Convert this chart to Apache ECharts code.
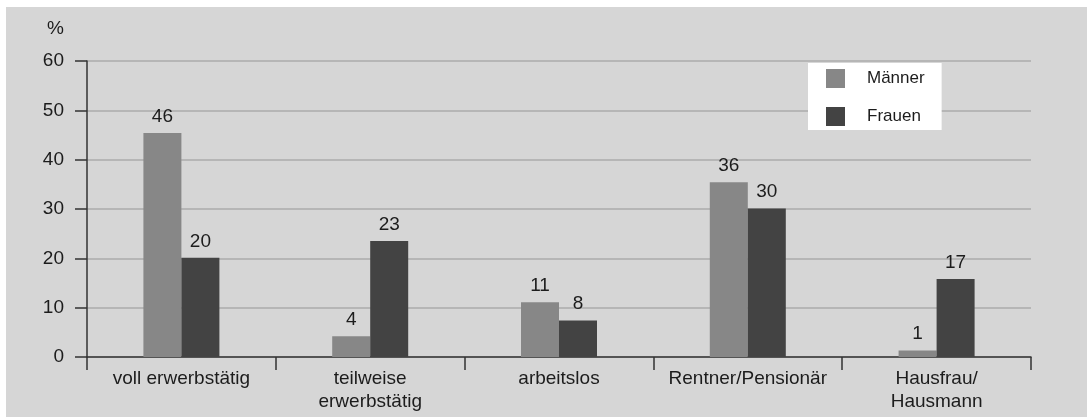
<!DOCTYPE html>
<html lang="de">
<head>
  <meta charset="UTF-8">
  <title>Erwerbsstatus</title>
  <script src="https://cdn.jsdelivr.net/npm/echarts@6/dist/echarts.min.js"></script>
  <style>
    body { margin: 0; background: #fff; }
    #chart {
      position: absolute;
      left: 6px;
      top: 7px;
      width: 1081px;
      height: 410px;
      background: #d6d6d6;
    }
  </style>
</head>
<body>
  <div id="chart"></div>
  <script>
    const categories = ['voll erwerbstätig', 'teilweise\nerwerbstätig', 'arbeitslos', 'Rentner/Pensionär', 'Hausfrau/\nHausmann'];
    // bar heights as drawn, and the numbers printed above them
    const maenner = [45.4, 4.2, 11.1, 35.4, 1.3];
    const frauen = [20.1, 23.5, 7.4, 30.1, 15.8];
    const maennerLabels = [46, 4, 11, 36, 1];
    const frauenLabels = [20, 23, 8, 30, 17];
    const yTicks = [0, 10, 20, 30, 40, 50, 60];

    const font = 'Liberation Sans, Arial, sans-serif';
    const chart = echarts.init(document.getElementById('chart'));

    function barLabel(labels) {
      return {
        show: true,
        position: 'top',
        distance: 7,
        color: '#1c1c1c',
        fontFamily: font,
        fontSize: 19,
        formatter: p => labels[p.dataIndex]
      };
    }

    chart.setOption({
      animation: false,
      textStyle: { fontFamily: font },
      grid: { left: 81, right: 56, top: 54, bottom: 60 },
      legend: {
        left: 802,
        top: 56,
        orient: 'vertical',
        backgroundColor: '#fff',
        padding: [6, 17, 4, 18],
        itemWidth: 19,
        itemHeight: 19,
        itemGap: 19,
        icon: 'rect',
        textStyle: { color: '#1c1c1c', fontSize: 17, fontFamily: font, padding: [0, 0, 0, 17] },
        data: ['Männer', 'Frauen']
      },
      graphic: [{
        type: 'text',
        left: 41,
        top: 12,
        style: { text: '%', fill: '#1c1c1c', font: '19px ' + font }
      }],
      xAxis: {
        type: 'category',
        data: categories,
        axisLine: { lineStyle: { color: '#333', width: 1.5 } },
        axisTick: { show: true, length: 13, lineStyle: { color: '#333', width: 1.5 } },
        axisLabel: { color: '#1c1c1c', fontSize: 19, margin: 10, lineHeight: 23, interval: 0 },
        splitLine: { show: false }
      },
      yAxis: {
        type: 'value',
        min: yTicks[0],
        max: yTicks[yTicks.length - 1],
        interval: 10,
        axisLine: { show: true, lineStyle: { color: '#333', width: 1.5 } },
        axisTick: { show: true, length: 12, lineStyle: { color: '#333', width: 1.5 } },
        axisLabel: { color: '#1c1c1c', fontSize: 19, margin: 23 },
        splitLine: { lineStyle: { color: '#ababab', width: 1.5 } }
      },
      series: [
        {
          name: 'Männer',
          type: 'bar',
          data: maenner,
          barWidth: 38,
          barGap: '0%',
          itemStyle: { color: '#878787' },
          label: barLabel(maennerLabels)
        },
        {
          name: 'Frauen',
          type: 'bar',
          data: frauen,
          barWidth: 38,
          itemStyle: { color: '#434343' },
          label: barLabel(frauenLabels)
        }
      ]
    });
  </script>
</body>
</html>
